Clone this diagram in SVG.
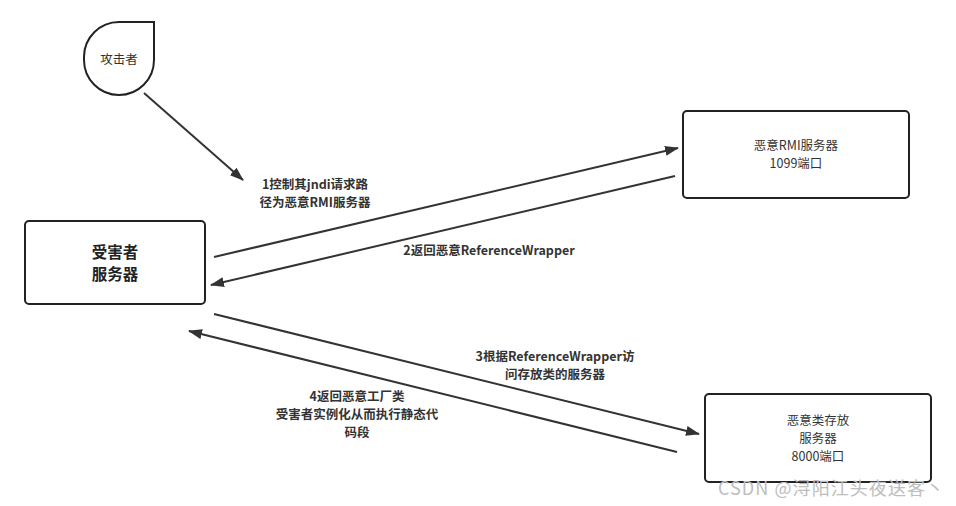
<svg xmlns="http://www.w3.org/2000/svg" width="956" height="506" viewBox="0 0 956 506">
<defs>
<style>
.box{fill:#fff;stroke:#222;stroke-width:2}
.t{font-family:"Microsoft YaHei","Noto Sans CJK SC","Noto Sans",sans-serif;font-size:12.5px;fill:#333;text-anchor:middle}
.b{font-weight:bold}
.big{font-size:15.5px;fill:#222}
.edge{stroke:#333;stroke-width:2;fill:none;marker-end:url(#ah)}
.wm{font-family:"Noto Sans CJK SC","Noto Sans",sans-serif;font-size:18px;fill:#bdbdbd}
</style>
<marker id="ah" viewBox="0 0 14 10" refX="13" refY="5" markerWidth="14" markerHeight="10" markerUnits="userSpaceOnUse" orient="auto">
<path d="M0,0 L14,5 L0,10 Z" fill="#333"/>
</marker>
</defs>
<rect width="956" height="506" fill="#fff"/>
<g id="attacker">
<path class="box" d="M154,22 L154,60 A35,35 0 0 1 119,95 A35,35 0 0 1 84,60 L84,57 A35,35 0 0 1 119,22 Z"/>
<text class="t" x="119" y="64">攻击者</text>
</g>
<g id="victim">
<rect class="box" x="25" y="221" width="180" height="83" rx="4"/>
<text class="t b big" x="115" y="258">受害者</text>
<text class="t b big" x="115" y="280">服务器</text>
</g>
<g id="rmi">
<rect class="box" x="683" y="111" width="226" height="87" rx="4"/>
<text class="t" x="796" y="150">恶意RMI服务器</text>
<text class="t" x="796" y="168">1099端口</text>
</g>
<g id="classserver">
<rect class="box" x="705" y="394" width="226" height="88" rx="4"/>
<text class="t" x="818" y="425">恶意类存放</text>
<text class="t" x="818" y="443">服务器</text>
<text class="t" x="818" y="461">8000端口</text>
</g>
<g id="connectors">
<line class="edge" x1="144" y1="93" x2="243" y2="180"/>
<line class="edge" x1="214" y1="257" x2="678" y2="148"/>
<line class="edge" x1="675" y1="176" x2="211" y2="285"/>
<line class="edge" x1="214" y1="314" x2="699" y2="434"/>
<line class="edge" x1="677" y1="452" x2="189" y2="331"/>
<text class="t b" x="315" y="189">1控制其jndi请求路</text>
<text class="t b" x="315" y="207">径为恶意RMI服务器</text>
<text class="t b" x="489" y="255">2返回恶意ReferenceWrapper</text>
<text class="t b" x="555" y="361">3根据ReferenceWrapper访</text>
<text class="t b" x="555" y="379">问存放类的服务器</text>
<text class="t b" x="357" y="401">4返回恶意工厂类</text>
<text class="t b" x="357" y="419">受害者实例化从而执行静态代</text>
<text class="t b" x="357" y="437">码段</text>
</g>
<text class="wm" x="718" y="495" textLength="226" lengthAdjust="spacing">CSDN @浔阳江头夜送客丶</text>
</svg>
